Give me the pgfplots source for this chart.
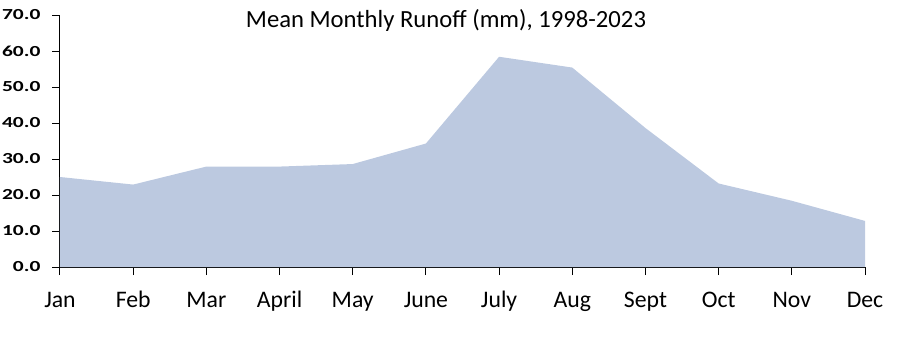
\documentclass[border=0pt]{standalone}
\usepackage{pgfplots}
\pgfplotsset{compat=1.18}
\usepackage{fontspec}
\setmainfont{Carlito}
\newfontfamily\ylabfont[FakeStretch=1.4]{Carlito}
\definecolor{areacol}{RGB}{188,201,224}
\begin{document}
\begin{tikzpicture}
\useasboundingbox (-45pt,-52.5pt) rectangle (627.75pt,200.25pt);
\begin{axis}[
  at={(0,0)}, anchor=south west,
  scale only axis, width=603.75pt, height=189pt,
  xmin=0, xmax=11, ymin=0, ymax=70,
  axis x line*=bottom, axis y line*=left,
  axis line style={black, line width=0.75pt, -},
  xtick={0,...,11},
  xticklabels={Jan,Feb,Mar,April,May,June,July,Aug,Sept,Oct,Nov,Dec},
  ytick={0,10,...,70},
  tick align=outside,
  tick style={black, line width=0.75pt},
  major tick length=6pt,
  xticklabel style={font=\fontsize{17.8}{20}\selectfont, anchor=base, yshift=-24pt, inner sep=0pt},
  yticklabel style={font=\ylabfont\fontsize{11.5}{13}\selectfont\bfseries, anchor=east, inner sep=0pt, xshift=-8.5pt,
    /pgf/number format/.cd, fixed, fixed zerofill, precision=1, assume math mode=true},
  clip=false,
]
\addplot[fill=areacol, draw=none] coordinates {
  (0,25.0) (1,22.9) (2,27.9) (3,27.9) (4,28.6) (5,34.3)
  (6,58.4) (7,55.4) (8,38.6) (9,23.2) (10,18.4) (11,12.8)
} \closedcycle;
\node[font=\fontsize{18.5}{20}\selectfont, anchor=base, inner sep=0pt] at ([yshift=-9.2pt]rel axis cs:0.4795,1) {Mean Monthly Runoff (mm), 1998-2023};
\end{axis}
\end{tikzpicture}
\end{document}
